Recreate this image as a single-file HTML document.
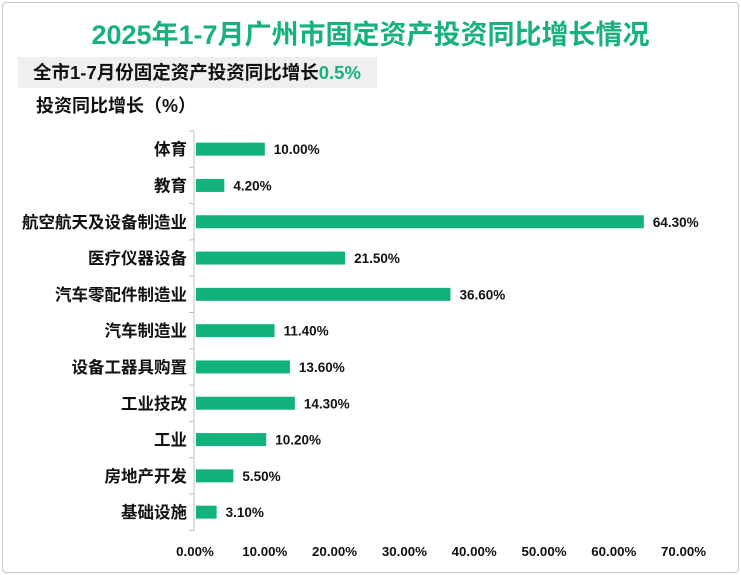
<!DOCTYPE html>
<html><head><meta charset="utf-8"><style>
body{margin:0;background:#fff;}
#wrap{position:relative;width:741px;height:575px;overflow:hidden;font-family:"Liberation Sans","Noto Sans CJK SC",sans-serif;}
#frame{position:absolute;left:2px;top:2px;width:735px;height:569px;border:1px solid #c8c8c8;border-radius:4px;}
#title{position:absolute;left:0;width:741px;top:13px;text-align:center;font-size:27px;font-weight:bold;color:#17b07f;}
#sub{position:absolute;left:18px;top:57px;width:359px;height:31px;background:#efefef;font-size:18.5px;font-weight:bold;color:#111;line-height:31px;padding-left:15px;box-sizing:border-box;white-space:nowrap;}
#sub span{color:#17b07f;}
#ytitle{position:absolute;left:36px;top:92px;font-size:18px;font-weight:bold;color:#111;}
svg{position:absolute;left:0;top:0;}
</style></head><body>
<div id="wrap">
<div id="frame"></div>
<div id="title">2025年1-7月广州市固定资产投资同比增长情况</div>
<div id="sub">全市1-7月份固定资产投资同比增长<span>0.5%</span></div>
<div id="ytitle">投资同比增长（%）</div>
<svg id="chart" width="741" height="575"></svg>
</div>
<script>
const categories=["体育","教育","航空航天及设备制造业","医疗仪器设备","汽车零配件制造业","汽车制造业","设备工器具购置","工业技改","工业","房地产开发","基础设施"];
const values=[10.0,4.2,64.3,21.5,36.6,11.4,13.6,14.3,10.2,5.5,3.1];
const tickValues=[0,10,20,30,40,50,60,70];
const ns="http://www.w3.org/2000/svg";
const svg=document.getElementById('chart');
const x0=195,pxPer=6.98,top0=131,rowH=36.3;
const xs=v=>x0+v*pxPer;
const yc=i=>top0+rowH*(i+0.5);
function mk(t,a){const e=document.createElementNS(ns,t);for(const k in a)e.setAttribute(k,a[k]);svg.appendChild(e);return e;}
const ax=mk('line',{x1:x0-1,x2:x0-1,y1:top0,y2:top0+rowH*categories.length,stroke:'#bfbfbf','stroke-width':1});


for(let i=0;i<=categories.length;i++){
  const t=mk('line',{x1:x0-6,x2:x0-1,y1:top0+rowH*i,y2:top0+rowH*i,stroke:'#bfbfbf','stroke-width':1});
  
  
}
categories.forEach((c,i)=>{
  const y=yc(i);
  const l=mk('text',{x:x0-8,y:y+6,'text-anchor':'end','font-size':16.5,'font-weight':'bold',fill:'#111'});
  l.textContent=c;
  
  
  const b=mk('rect',{x:x0+1,y:y-6.5,width:xs(values[i])-x0-1,height:13,fill:'#12b27e'});
  
  
  const v=mk('text',{x:xs(values[i])+9,y:y+5,'font-size':13.5,'font-weight':'bold',fill:'#111'});
  v.textContent=values[i].toFixed(2)+'%';
  
  
});
tickValues.forEach(t=>{
  const e=mk('text',{x:xs(t),y:556,'text-anchor':'middle','font-size':13.3,'font-weight':'bold',fill:'#111'});
  e.textContent=t.toFixed(2)+'%';
  
  
});
</script>
</body></html>
